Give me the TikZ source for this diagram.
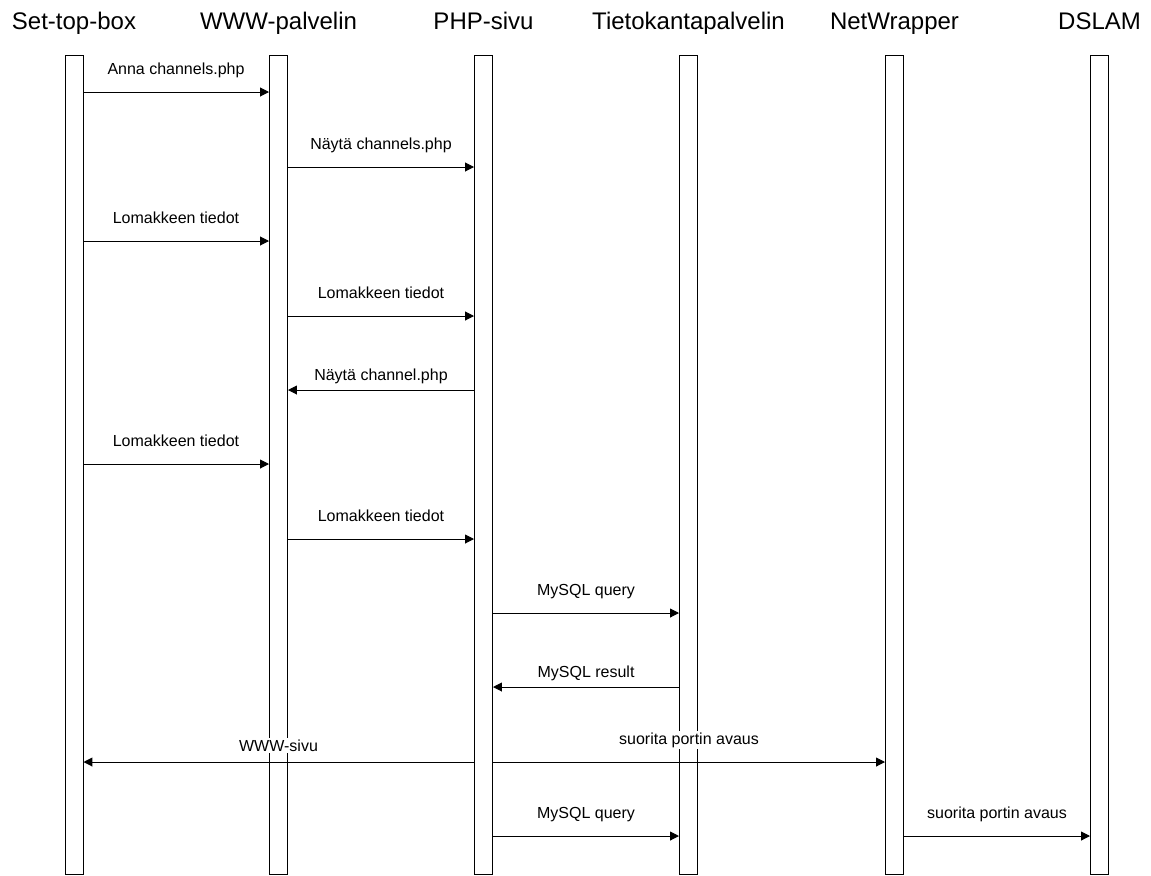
\documentclass[tikz,border=0pt]{standalone}
\usepackage{fontspec}
\setmainfont{Liberation Sans}
\usetikzlibrary{arrows.meta}

\tikzset{every picture/.style={line width=0.75pt}}
\tikzset{
  lifeline/.style={draw, rectangle, inner sep=0pt, minimum width=13.5pt, minimum height=614.25pt},
  header/.style={anchor=base, font=\fontsize{18}{22}\selectfont},
  msg/.style={-{Triangle[length=6.7pt,width=6.7pt]}},
  msglabel/.style={anchor=base, fill=white, inner sep=1pt, font=\fontsize{12}{14}\selectfont},
}

\begin{document}
\begin{tikzpicture}[x=0.75pt,y=0.75pt,yscale=-1,xscale=1]
\useasboundingbox (0,0) rectangle (1151,875);

%Shape: Rectangle [lifelines]
\node[lifeline] (stb) at (74,464.5) {};
\node[lifeline] (www) at (278.5,464.5) {};
\node[lifeline] (php) at (483.5,464.5) {};
\node[lifeline] (db) at (688.5,464.5) {};
\node[lifeline] (nw) at (894.5,464.5) {};
\node[lifeline] (dslam) at (1099.5,464.5) {};

% Text Node [headers]
\node[header] (hstb) at (74,29) {Set-top-box};
\node[header] (hwww) at (278.5,29) {WWW-palvelin};
\node[header] (hphp) at (483.5,29) {PHP-sivu};
\node[header] (hdb) at (688.5,29) {Tietokantapalvelin};
\node[header] (hnw) at (894.5,29) {NetWrapper};
\node[header] (hdslam) at (1099.5,29) {DSLAM};

% message heights
\coordinate (m1) at (0,92);
\coordinate (m2) at (0,167);
\coordinate (m3) at (0,241);
\coordinate (m4) at (0,316);
\coordinate (m5) at (0,390);
\coordinate (m6) at (0,464);
\coordinate (m7) at (0,539);
\coordinate (m8) at (0,613);
\coordinate (m9) at (0,687);
\coordinate (m10) at (0,762);
\coordinate (m11) at (0,836);

%Straight Lines [messages]
\draw[msg] (stb.east |- m1) -- (www.west |- m1);
\draw[msg] (www.east |- m2) -- (php.west |- m2);
\draw[msg] (stb.east |- m3) -- (www.west |- m3);
\draw[msg] (www.east |- m4) -- (php.west |- m4);
\draw[msg] (php.west |- m5) -- (www.east |- m5);
\draw[msg] (stb.east |- m6) -- (www.west |- m6);
\draw[msg] (www.east |- m7) -- (php.west |- m7);
\draw[msg] (php.east |- m8) -- (db.west |- m8);
\draw[msg] (db.west |- m9) -- (php.east |- m9);
\draw[msg] (php.west |- m10) -- (stb.east |- m10);
\draw[msg] (php.east |- m10) -- (nw.west |- m10);
\draw[msg] (php.east |- m11) -- (db.west |- m11);
\draw[msg] (nw.east |- m11) -- (dslam.west |- m11);

% Text Node [labels]
\node[msglabel] (l1) at (176,74) {Anna channels.php};
\node[msglabel] (l2) at (381,149) {Näytä channels.php};
\node[msglabel] (l3) at (176,223) {Lomakkeen tiedot};
\node[msglabel] (l4) at (381,298) {Lomakkeen tiedot};
\node[msglabel] (l5) at (381,380) {Näytä channel.php};
\node[msglabel] (l6) at (176,446) {Lomakkeen tiedot};
\node[msglabel] (l7) at (381,521) {Lomakkeen tiedot};
\node[msglabel] (l8) at (586,595) {MySQL query};
\node[msglabel] (l9) at (586,677) {MySQL result};
\node[msglabel] (l10) at (278.5,751) {WWW-sivu};
\node[msglabel] (l11) at (689,744) {suorita portin avaus};
\node[msglabel] (l12) at (586,818) {MySQL query};
\node[msglabel] (l13) at (997,818) {suorita portin avaus};

\end{tikzpicture}
\end{document}
